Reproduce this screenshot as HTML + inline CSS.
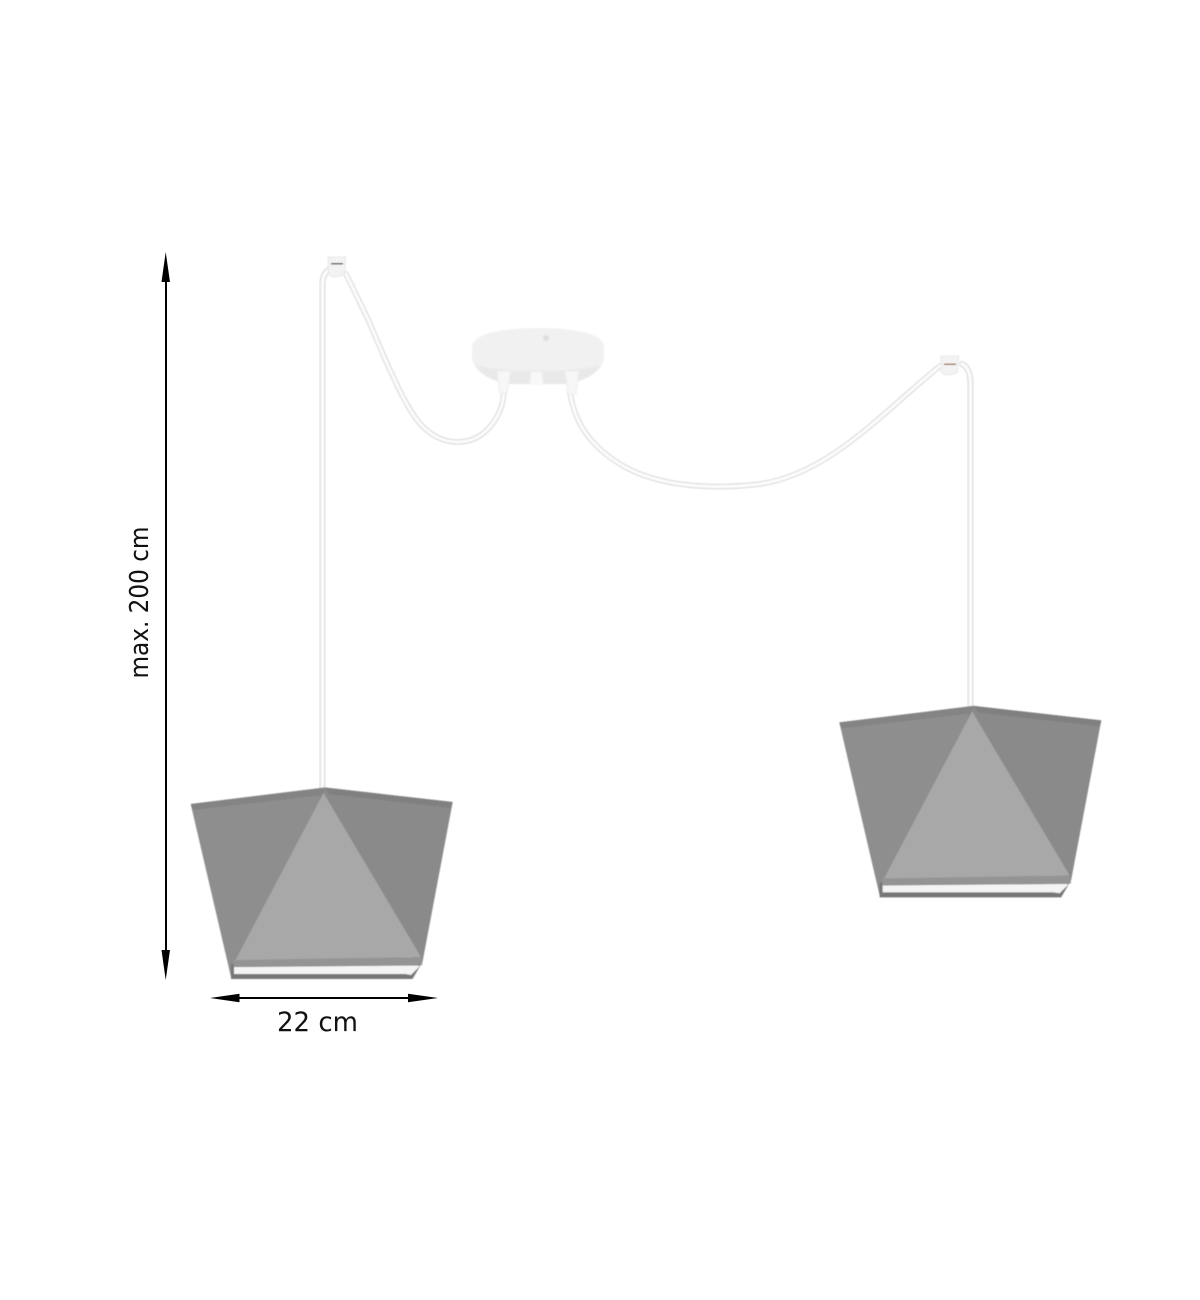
<!DOCTYPE html>
<html lang="en">
<head>
<meta charset="utf-8">
<title>Pendant lamp dimensions</title>
<style>
html,body{margin:0;padding:0;background:#fff;width:1200px;height:1300px;overflow:hidden}
svg{display:block}
text{font-family:"DejaVu Sans","Liberation Sans",sans-serif;fill:#111111}
</style>
</head>
<body>
<svg width="1200" height="1300" viewBox="0 0 1200 1300" xmlns="http://www.w3.org/2000/svg">
<defs>
<filter id="soft" x="-5%" y="-5%" width="110%" height="110%"><feGaussianBlur stdDeviation="0.5"/></filter>
<filter id="cable-soft" filterUnits="userSpaceOnUse" x="250" y="220" width="800" height="600"><feGaussianBlur stdDeviation="0.6"/></filter>
<filter id="canopy-soft" filterUnits="userSpaceOnUse" x="450" y="310" width="180" height="100"><feGaussianBlur stdDeviation="0.8"/></filter>
</defs>
<rect width="1200" height="1300" fill="#ffffff"/>

<g fill="none" stroke-linecap="round" filter="url(#cable-soft)">
<path d="M322.500 790 V284 Q322.500 271 334 267" stroke="#dcdcdc" stroke-width="6"/>
<path d="M322.500 790 V284 Q322.500 271 334 267" stroke="#fbfbfb" stroke-width="3.500"/>
<path d="M346 274 C353 288 360 303 367 317 C375 335 382 353 390 370 C398 387 406 405 417 420 C428 434 442 442 457 442 C470 442 480 437 487 430 C497 420 503 408 504 392" stroke="#dcdcdc" stroke-width="5.500"/>
<path d="M346 274 C353 288 360 303 367 317 C375 335 382 353 390 370 C398 387 406 405 417 420 C428 434 442 442 457 442 C470 442 480 437 487 430 C497 420 503 408 504 392" stroke="#fbfbfb" stroke-width="3.200"/>
</g>

<g fill="none" stroke-linecap="round" filter="url(#cable-soft)">
<path d="M570 392 C574 420 588 446 625 467 C660 486 710 490 760 484 C830 474 885 410 940 366" stroke="#dcdcdc" stroke-width="5.500"/>
<path d="M570 392 C574 420 588 446 625 467 C660 486 710 490 760 484 C830 474 885 410 940 366" stroke="#fbfbfb" stroke-width="3.200"/>
<path d="M962 364 Q970.500 368 970.500 384 V708" stroke="#dcdcdc" stroke-width="6"/>
<path d="M962 364 Q970.500 368 970.500 384 V708" stroke="#fbfbfb" stroke-width="3.500"/>
</g>

<g filter="url(#cable-soft)">
<path d="M328 257 H346 L345 263 V272 Q343 277 336 277 Q329 277 328 272 V263 Z" fill="#f3f3f3" stroke="#e6e6e6" stroke-width="0.800"/>
<rect x="331" y="263" width="12" height="1.500" fill="#555555"/>
</g>
<g filter="url(#cable-soft)">
<path d="M941 356 H959 L958 362 V371 Q956 375 949 375 Q942 375 941 371 V362 Z" fill="#f3f3f3" stroke="#e6e6e6" stroke-width="0.800"/>
<rect x="944" y="363.500" width="12" height="1.500" fill="#a5785f"/>
</g>

<g filter="url(#canopy-soft)">
<path d="M472 347 C472 334 502 328 538 328 C576 328 604 334 604 347 L604 356 C604 370 590 380 566 384 L510 384 C486 380 472 370 472 356 Z" fill="#f1f1f1"/>
<path d="M476 365 C500 373 578 373 600 365 C595 376 580 382 566 384 L510 384 C494 382 482 376 476 365 Z" fill="#e9e9e9"/>
<circle cx="546" cy="338" r="3" fill="#dfdfdf"/>
<path d="M531 372 H542 L543 384 Q537 387 530 384 Z" fill="#f8f8f8"/>
<path d="M497 371 H511 L507 393 L500 394 Z" fill="#f7f7f7" stroke="#eaeaea" stroke-width="0.800"/>
<path d="M565 371 H579 L576 394 L568 395 Z" fill="#f7f7f7" stroke="#eaeaea" stroke-width="0.800"/>
</g>

<g filter="url(#soft)">
<path d="M190.700 804 L325 787.500 L326 800 L237 962 L233 975 L231 977 Z" fill="#8e8e8e"/>
<path d="M325 787.500 L452.700 802 L422.500 962 L416 962 L318 796 Z" fill="#8a8a8a"/>
<path d="M190.700 804 L325 787.500 L323 795 L193 810 Z" fill="#848484"/>
<path d="M325 787.500 L452.700 802 L451 808 L329 794 Z" fill="#808080"/>
<path d="M323.500 793 L421 957 L235 961 Z" fill="#a8a8a8"/>
<path d="M231 964 L422.500 962 L412.500 979 L231 979 Z" fill="#777777"/>
<path d="M234 967 L417 965.500 L420 966 L411 975 L405 974 L234 974 Z" fill="#f4f4f4"/>
<path d="M234 960 L421 957 L422.500 965 L233.500 966.500 Z" fill="#949494"/>
</g>

<g transform="translate(648.600,-81.600)" filter="url(#soft)">
<path d="M190.700 804 L325 787.500 L326 800 L237 962 L233 975 L231 977 Z" fill="#8e8e8e"/>
<path d="M325 787.500 L452.700 802 L422.500 962 L416 962 L318 796 Z" fill="#8a8a8a"/>
<path d="M190.700 804 L325 787.500 L323 795 L193 810 Z" fill="#848484"/>
<path d="M325 787.500 L452.700 802 L451 808 L329 794 Z" fill="#808080"/>
<path d="M323.500 793 L421 957 L235 961 Z" fill="#a8a8a8"/>
<path d="M231 964 L422.500 962 L412.500 979 L231 979 Z" fill="#777777"/>
<path d="M234 967 L417 965.500 L420 966 L411 975 L405 974 L234 974 Z" fill="#f4f4f4"/>
<path d="M234 960 L421 957 L422.500 965 L233.500 966.500 Z" fill="#949494"/>
</g>

<g fill="#000000">
<rect x="165" y="275" width="2" height="680"/>
<path d="M165.700 252 L170 282 L161.500 282 Z"/>
<path d="M165.700 980 L170 950 L161.500 950 Z"/>
</g>
<g fill="#000000">
<rect x="232" y="997" width="184" height="2"/>
<path d="M210 998 L239.500 993.700 L239.500 1002.300 Z"/>
<path d="M438 998 L408 993.700 L408 1002.300 Z"/>
</g>

<text transform="translate(148,678.500) rotate(-90)" font-size="26" textLength="152" lengthAdjust="spacingAndGlyphs">max. 200 cm</text>
<text x="277" y="1031" font-size="26.500" textLength="81" lengthAdjust="spacingAndGlyphs">22 cm</text>
</svg>
</body>
</html>
